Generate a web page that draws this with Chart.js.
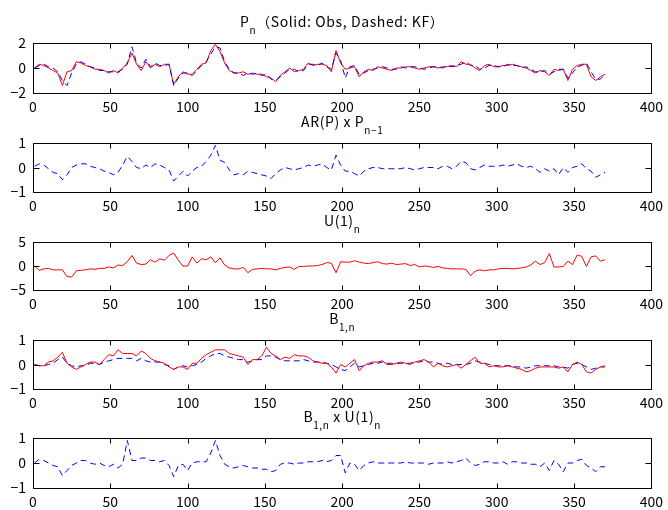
<!DOCTYPE html>
<html>
<head>
<meta charset="utf-8">
<script src="https://cdn.jsdelivr.net/npm/chart.js@4.4.1/dist/chart.umd.min.js"></script>
<style>
html, body { margin: 0; padding: 0; background: #fff; }
#wrap { position: relative; width: 668px; height: 510px; }
#wrap canvas { position: absolute; left: 0; top: 0; }
</style>
</head>
<body>
<div id="wrap">
  <canvas id="c1" width="668" height="510"></canvas>
  <canvas id="c2" width="668" height="510"></canvas>
  <canvas id="c3" width="668" height="510"></canvas>
  <canvas id="c4" width="668" height="510"></canvas>
  <canvas id="c5" width="668" height="510"></canvas>
</div>
<script>
// sample index n (every 3rd sample)
const nIdx = [];
for (let n = 1; n <= 370; n += 3) nIdx.push(n);

const xTickVals = [0, 50, 100, 150, 200, 250, 300, 350, 400];

// P_n : observed (solid red) and Kalman filter (dashed blue)
const pnObs = [
  0.0, 0.3, 0.2, 0.0, -0.2, -0.4, -1.4, -0.3, -0.2, 0.5,
  0.4, 0.2, 0.1, -0.1, -0.1, -0.2, -0.4, -0.2, -0.4, 0.0,
  0.4, 1.2, 0.3, -0.2, 0.5, 0.0, 0.3, 0.1, 0.3, 0.3,
  -1.3, -0.7, -0.3, -0.5, -0.5, -0.1, 0.3, 0.4, 1.4, 1.9,
  1.3, 0.4, -0.2, -0.4, -0.4, -0.3, -0.5, -0.4, -0.5, -0.5,
  -0.7, -0.8, -1.1, -0.6, -0.3, 0.0, -0.3, -0.2, -0.1, 0.4,
  0.2, 0.3, 0.3, 0.2, -0.3, 1.4, 0.4, -0.1, 0.0, 0.1,
  -0.7, -0.3, -0.1, -0.2, 0.1, 0.0, -0.1, -0.2, 0.0, 0.0,
  0.1, 0.1, 0.0, -0.1, 0.0, 0.1, 0.1, 0.0, 0.1, 0.1,
  0.2, 0.1, 0.5, 0.3, 0.3, 0.0, -0.2, 0.2, 0.3, 0.1,
  0.1, 0.2, 0.2, 0.3, 0.2, 0.1, 0.0, -0.2, -0.4, -0.2,
  -0.3, -0.6, -0.1, -0.2, -0.1, -1.0, -0.1, 0.2, 0.3, 0.3,
  -0.7, -1.0, -0.7, -0.5
];
const pnKf = [
  0.0, 0.2, 0.3, 0.1, 0.0, -0.3, -1.0, -1.4, -0.4, 0.3,
  0.5, 0.3, 0.1, 0.0, -0.2, -0.2, -0.3, -0.3, -0.3, -0.1,
  0.3, 1.7, 0.4, 0.0, 0.7, 0.1, 0.4, 0.2, 0.2, 0.3,
  -1.4, -0.8, -0.4, -0.4, -0.6, -0.2, 0.2, 0.5, 1.1, 1.7,
  1.6, 0.5, -0.1, -0.4, -0.4, -0.6, -0.4, -0.5, -0.4, -0.6,
  -0.5, -0.9, -1.0, -0.7, -0.4, -0.1, -0.1, -0.3, -0.2, 0.3,
  0.3, 0.2, 0.4, 0.1, -0.1, 1.2, 0.6, -0.8, 0.1, 0.2,
  -0.5, -0.4, -0.2, -0.1, 0.0, 0.1, 0.0, -0.1, -0.1, 0.1,
  0.0, 0.1, 0.1, 0.0, -0.1, 0.0, 0.1, 0.1, 0.0, 0.2,
  0.1, 0.2, 0.3, 0.5, 0.2, 0.2, -0.1, 0.0, 0.2, 0.2,
  0.1, 0.1, 0.3, 0.2, 0.2, 0.0, 0.1, -0.1, -0.3, -0.3,
  -0.2, -0.5, -0.3, -0.1, -0.1, -0.8, -0.4, 0.1, 0.2, 0.4,
  -0.3, -0.9, -0.9, -0.5
];

// AR(P) x P_{n-1}
const arTerm = [
  0.05, 0.15, 0.1, -0.05, -0.2, -0.25, -0.5, -0.3, 0.0, 0.1,
  0.15, 0.15, 0.05, 0.0, -0.05, -0.15, -0.2, -0.3, -0.2, 0.1,
  0.45, 0.25, 0.0, -0.05, 0.1, 0.0, 0.15, 0.1, 0.0, -0.1,
  -0.55, -0.35, -0.15, -0.35, -0.15, 0.0, 0.05, 0.25, 0.5, 0.9,
  0.3, 0.2, -0.1, -0.3, -0.25, -0.3, -0.15, -0.2, -0.25, -0.3,
  -0.35, -0.45, -0.25, -0.1, 0.0, -0.05, -0.1, -0.05, 0.0, 0.1,
  0.05, 0.1, 0.15, 0.0, -0.1, 0.5, 0.1, -0.15, -0.15, -0.25,
  -0.35, -0.15, -0.05, 0.0, 0.0, -0.05, -0.05, -0.05, -0.05, -0.05,
  0.0, -0.05, -0.1, -0.05, 0.0, 0.0, 0.0, -0.05, 0.05, 0.05,
  -0.05, 0.05, 0.25, 0.2, -0.05, -0.1, 0.0, 0.1, 0.05, 0.05,
  0.05, 0.1, 0.05, 0.1, 0.15, 0.05, 0.0, 0.05, -0.05, -0.2,
  -0.05, -0.15, -0.05, -0.3, 0.0, -0.2, 0.0, 0.05, 0.15, -0.05,
  -0.15, -0.4, -0.3, -0.2
];

// U(1)_n
const u1 = [
  0.0, -0.9, -0.6, -0.5, -0.8, -0.8, -0.8, -2.2, -2.3, -1.0,
  -0.9, -0.8, -0.6, -0.7, -0.5, -0.5, -0.2, -0.4, 0.2, 0.1,
  0.9, 2.2, 0.6, 0.3, 0.4, 1.3, 0.8, 1.5, 1.2, 2.2,
  2.7, 1.2, 0.0, 0.0, 1.9, 0.6, 1.5, 1.3, 1.9, 0.7,
  1.7, 0.2, -0.4, -0.6, -0.6, -0.3, -1.4, -0.7, -0.6, -0.5,
  -0.6, -0.6, -0.8, -0.5, -0.3, -0.2, -0.7, -0.1, -0.1, 0.0,
  0.0, 0.1, 0.3, 0.7, 0.6, -1.4, 0.9, 0.8, 0.8, 1.1,
  0.8, 0.6, 0.5, 0.7, 0.9, 0.5, 0.4, 0.6, 0.3, 0.4,
  0.5, 0.1, 0.3, -0.2, 0.0, -0.1, -0.3, -0.1, -0.4, -0.5,
  -0.6, -0.6, -0.6, -0.7, -2.0, -1.1, -0.8, -1.0, -0.8, -0.8,
  -0.6, -0.5, -0.5, -0.6, -0.5, -0.4, -0.2, 0.2, 1.0, 0.3,
  0.7, 2.6, -0.2, -0.2, -0.1, 1.0, 0.3, 2.3, 2.0, -0.1,
  1.9, 2.1, 1.0, 1.3
];

// B_{1,n} : solid red and dashed blue
const b1Solid = [
  0.0, -0.05, -0.05, 0.1, 0.15, 0.3, 0.5, 0.05, -0.1, -0.2,
  -0.1, 0.0, 0.1, 0.1, 0.0, 0.2, 0.4, 0.35, 0.6, 0.45,
  0.45, 0.45, 0.35, 0.55, 0.45, 0.25, 0.15, 0.1, 0.05, -0.1,
  -0.2, -0.1, -0.1, -0.2, 0.05, 0.05, 0.25, 0.4, 0.5, 0.6,
  0.6, 0.6, 0.45, 0.4, 0.35, 0.3, 0.0, 0.2, 0.2, 0.35,
  0.7, 0.45, 0.35, 0.2, 0.3, 0.25, 0.4, 0.35, 0.35, 0.3,
  0.15, 0.1, 0.05, 0.05, -0.1, -0.35, 0.0, -0.1, 0.05, 0.2,
  -0.25, -0.05, 0.05, 0.1, 0.1, 0.15, 0.0, 0.0, 0.05, 0.1,
  0.05, 0.0, 0.1, 0.15, 0.2, 0.1, -0.1, 0.05, -0.05, -0.1,
  -0.05, 0.0, -0.15, 0.0, 0.15, 0.3, 0.05, 0.05, -0.1, -0.05,
  -0.1, -0.1, -0.05, -0.1, -0.15, -0.2, -0.3, -0.25, -0.15, -0.1,
  -0.1, -0.1, -0.1, -0.15, -0.1, -0.3, 0.0, 0.1, 0.0, -0.3,
  -0.35, -0.2, -0.1, -0.05
];
const b1Dashed = [
  0.0, -0.05, -0.05, 0.0, 0.05, 0.2, 0.3, 0.05, -0.05, -0.1,
  -0.05, -0.05, 0.05, 0.05, 0.0, 0.1, 0.15, 0.2, 0.25, 0.25,
  0.25, 0.25, 0.15, 0.25, 0.15, 0.1, 0.1, 0.1, 0.0, -0.05,
  -0.2, -0.1, -0.05, -0.1, -0.05, 0.0, 0.1, 0.25, 0.35, 0.45,
  0.45, 0.35, 0.3, 0.25, 0.2, 0.2, 0.1, 0.15, 0.2, 0.2,
  0.35, 0.35, 0.3, 0.2, 0.15, 0.15, 0.15, 0.15, 0.2, 0.15,
  0.1, 0.1, 0.1, 0.05, 0.0, -0.1, -0.2, -0.25, -0.1, 0.05,
  -0.1, -0.05, 0.0, 0.05, 0.05, 0.1, 0.05, 0.05, 0.05, 0.05,
  0.05, 0.05, 0.1, 0.1, 0.15, 0.1, 0.1, 0.05, 0.0, 0.05,
  0.0, 0.0, 0.0, 0.0, 0.05, 0.15, 0.1, 0.05, 0.0, -0.05,
  -0.05, -0.05, -0.05, -0.05, -0.1, -0.1, -0.15, -0.1, -0.05, -0.05,
  -0.05, -0.05, -0.05, -0.1, -0.1, -0.15, 0.0, 0.05, 0.0, -0.1,
  -0.2, -0.15, -0.1, -0.1
];

// B_{1,n} x U(1)_n
const b1u1 = [
  0.0, 0.15, 0.1, 0.0, -0.1, -0.15, -0.5, -0.3, -0.1, 0.0,
  0.1, 0.1, 0.0, -0.05, 0.0, -0.1, -0.15, -0.05, -0.2, -0.05,
  0.9, 0.1, 0.1, 0.2, 0.2, 0.1, 0.1, 0.05, 0.1, -0.1,
  -0.55, -0.1, -0.05, -0.3, 0.0, 0.05, 0.05, 0.05, 0.4, 0.9,
  0.3, -0.05, -0.15, -0.2, -0.15, -0.1, -0.15, -0.2, -0.2, -0.25,
  -0.25, -0.35, -0.3, -0.05, 0.0, 0.0, -0.05, 0.0, 0.0, 0.05,
  0.05, 0.05, 0.1, 0.05, 0.1, 0.3, 0.3, -0.4, 0.0, -0.05,
  -0.3, -0.1, 0.0, 0.05, 0.0, 0.0, 0.0, 0.0, 0.0, 0.0,
  0.05, 0.0, 0.0, 0.0, 0.0, -0.05, 0.0, 0.0, 0.0, 0.05,
  0.0, 0.05, 0.1, 0.2, 0.0, -0.1, -0.05, 0.05, 0.05, 0.0,
  0.0, 0.05, -0.05, 0.05, 0.05, 0.0, 0.0, -0.05, -0.05, -0.15,
  0.0, -0.3, 0.1, -0.05, -0.35, 0.0, 0.0, 0.1, 0.15, -0.1,
  -0.2, -0.35, -0.15, -0.15
];

const FONT = '"Noto Sans CJK JP", "DejaVu Sans", sans-serif';
const RED = '#ff0000';
const BLUE = '#0000ff';

function pts(vals) {
  return vals.map((v, i) => ({ x: nIdx[i], y: v }));
}

// box, inward ticks and the MATLAB style title with subscripts
const frame = {
  id: 'frame',
  afterDatasetsDraw(chart, args, o) {
    const { ctx, chartArea: a, scales: { x, y } } = chart;
    const L = Math.round(a.left) + 0.5, R = Math.round(a.right) + 0.5;
    const T = Math.round(a.top) + 0.5, B = Math.round(a.bottom) + 0.5;
    ctx.save();
    ctx.strokeStyle = '#000';
    ctx.lineWidth = 1;
    ctx.setLineDash([]);
    ctx.beginPath();
    ctx.rect(L, T, R - L, B - T);
    xTickVals.forEach(v => {
      const px = Math.round(x.getPixelForValue(v)) + 0.5;
      ctx.moveTo(px, B); ctx.lineTo(px, B - 5);
      ctx.moveTo(px, T); ctx.lineTo(px, T + 5);
    });
    o.yTicks.forEach(v => {
      const py = Math.round(y.getPixelForValue(v)) + 0.5;
      ctx.moveTo(L, py); ctx.lineTo(L + 6, py);
      ctx.moveTo(R, py); ctx.lineTo(R - 6, py);
    });
    ctx.stroke();

    const big = '14px ' + FONT, small = '10px ' + FONT;
    ctx.letterSpacing = '0.6px';
    let w = 0;
    o.title.forEach(p => { ctx.font = p[1] ? small : big; w += ctx.measureText(p[0]).width; });
    let cx = (a.left + a.right) / 2 - w / 2;
    const base = a.top - 16.5;
    ctx.fillStyle = '#000';
    ctx.textBaseline = 'alphabetic';
    ctx.textAlign = 'left';
    o.title.forEach(p => {
      ctx.font = p[1] ? small : big;
      ctx.fillText(p[0], cx, p[1] ? base + 7 : base);
      cx += ctx.measureText(p[0]).width;
    });
    ctx.restore();
  }
};

function panel(id, top, bottom, yMin, yMax, title, datasets) {
  const yTicks = [yMin, 0, yMax];
  new Chart(document.getElementById(id), {
    type: 'line',
    data: { datasets: datasets },
    options: {
      responsive: false,
      animation: false,
      events: [],
      layout: { autoPadding: false, padding: { top: top, left: 0, right: 13, bottom: 0 } },
      plugins: { legend: { display: false }, tooltip: { enabled: false }, frame: { title: title, yTicks: yTicks } },
      elements: { point: { radius: 0 }, line: { tension: 0, borderWidth: 1 } },
      scales: {
        x: {
          type: 'linear', min: 0, max: 400,
          afterBuildTicks: s => { s.ticks = xTickVals.map(v => ({ value: v })); },
          afterFit: s => { s.height = 510 - bottom; },
          grid: { display: false, drawTicks: false },
          border: { display: false },
          ticks: { color: '#000', font: { family: FONT, size: 14 }, padding: 5, maxRotation: 0, autoSkip: false }
        },
        y: {
          min: yMin, max: yMax,
          afterBuildTicks: s => { s.ticks = yTicks.map(v => ({ value: v })); },
          afterFit: s => { s.width = 33; },
          grid: { display: false, drawTicks: false },
          border: { display: false },
          ticks: { color: '#000', font: { family: FONT, size: 14 }, padding: 7,
                   callback: v => String(v).replace('-', '\u2212') }
        }
      }
    },
    plugins: [frame]
  });
}

const dashed = [6, 4];

panel('c1', 43, 93, -2, 2, [['P', 0], ['n', 1], ['\uff08Solid: Obs, Dashed: KF\uff09', 0]], [
  { label: 'KF', data: pts(pnKf), borderColor: BLUE, borderDash: dashed },
  { label: 'Obs', data: pts(pnObs), borderColor: RED }
]);
panel('c2', 143, 192, -1, 1, [['AR(P) x P', 0], ['n\u22121', 1]], [
  { label: 'AR', data: pts(arTerm), borderColor: BLUE, borderDash: dashed }
]);
panel('c3', 242, 290, -5, 5, [['U(1)', 0], ['n', 1]], [
  { label: 'U1', data: pts(u1), borderColor: RED }
]);
panel('c4', 340, 389, -1, 1, [['B', 0], ['1,n', 1]], [
  { label: 'B1', data: pts(b1Solid), borderColor: RED },
  { label: 'B1 KF', data: pts(b1Dashed), borderColor: BLUE, borderDash: dashed }
]);
panel('c5', 438, 488, -1, 1, [['B', 0], ['1,n', 1], [' x U(1)', 0], ['n', 1]], [
  { label: 'B1U1', data: pts(b1u1), borderColor: BLUE, borderDash: dashed }
]);
</script>
</body>
</html>
